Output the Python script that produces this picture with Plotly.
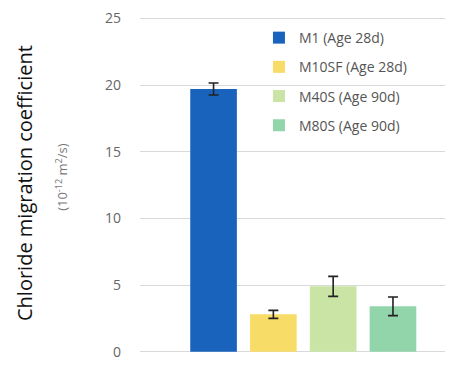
import plotly.graph_objects as go

categories = ["M1 (Age 28d)", "M10SF (Age 28d)", "M40S (Age 90d)", "M80S (Age 90d)"]
values = [19.7, 2.8, 4.9, 3.4]
errors = [0.45, 0.3, 0.75, 0.7]
colors = ["#1a63bd", "#f8dc68", "#c9e4a4", "#93d5ab"]
ytick_vals = [0, 5, 10, 15, 20, 25]

fig = go.Figure()
for cat, v, e, c in zip(categories, values, errors, colors):
    fig.add_trace(go.Bar(
        x=[cat], y=[v], name=cat, legendgroup=cat,
        marker=dict(color=c, line=dict(width=0)),
        error_y=dict(type="data", array=[e], visible=True, color="#222222",
                     thickness=1.6, width=5),
        width=0.78,
    ))

fig.update_layout(
    width=465, height=378,
    paper_bgcolor="white", plot_bgcolor="white",
    margin=dict(l=132, r=28, t=9, b=33),
    showlegend=True,
    legend=dict(x=0.39, y=0.985, xanchor="left", yanchor="top",
                font=dict(family="Open Sans, DejaVu Sans", size=14, color="#555555"),
                bgcolor="rgba(255,255,255,0)", tracegroupgap=8, itemwidth=30),
    font=dict(family="Open Sans, DejaVu Sans"),
)
fig.update_xaxes(type="category", range=[-1.23, 3.87], showticklabels=False,
                 showgrid=False, zeroline=False, showline=False, automargin=False)
fig.update_yaxes(range=[-0.1, 25.1], tickvals=ytick_vals, showgrid=True,
                 gridcolor="#d9d9d9", gridwidth=1, zeroline=False, automargin=False,
                 tickfont=dict(size=14, color="#666666"), ticklabelstandoff=18,
                 showline=False)

fig.add_annotation(text="Chloride migration coefficient", xref="paper", yref="paper",
                   x=-0.377, y=0.506, xanchor="center", yanchor="middle",
                   textangle=-90, showarrow=False,
                   font=dict(size=20, color="#111111", family="Open Sans, DejaVu Sans"))
fig.add_annotation(text="(10<sup>-12</sup> m<sup>2</sup>/s)", xref="paper", yref="paper",
                   x=-0.256, y=0.524, xanchor="center", yanchor="middle",
                   textangle=-90, showarrow=False,
                   font=dict(size=13, color="#777777", family="Open Sans, DejaVu Sans"))

fig.write_html("out.html")
